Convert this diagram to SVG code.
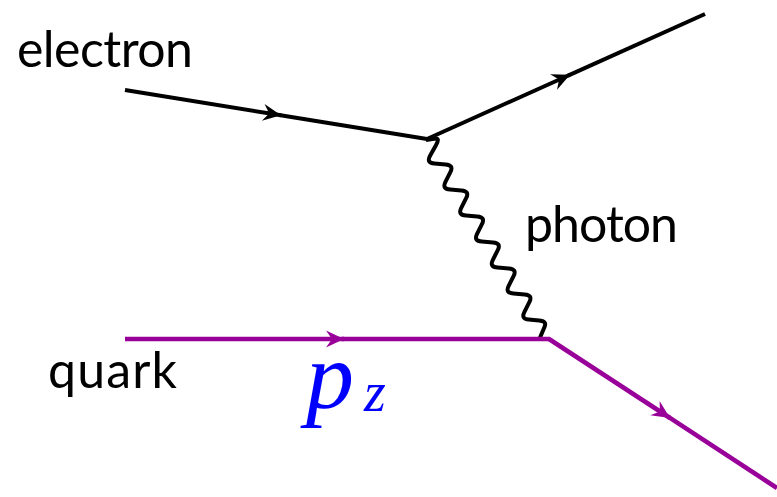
<svg xmlns="http://www.w3.org/2000/svg" width="777" height="497" viewBox="0 0 777 497">
<style>
.lbl{font-family:"Lato","Open Sans","DejaVu Sans",sans-serif;font-size:50px;fill:#000}
.fe{stroke:#000;stroke-width:4;fill:none;stroke-linecap:butt}
.fq{stroke:#990099;stroke-width:4.5;fill:none;stroke-linecap:butt}
.math{font-family:"Liberation Serif","DejaVu Serif",serif;font-style:italic;fill:#0000ff}
</style>
<defs>
<marker id="ab" viewBox="-20 -10 22 20" markerWidth="22" markerHeight="20" refX="0" refY="0" orient="auto" markerUnits="userSpaceOnUse">
<path d="M0,0 L-18,-8.5 L-12,0 L-18,8.5 Z" fill="#000"/>
</marker>
<marker id="ap" viewBox="-20 -10 22 20" markerWidth="22" markerHeight="20" refX="0" refY="0" orient="auto" markerUnits="userSpaceOnUse">
<path d="M0,0 L-18,-8.5 L-12,0 L-18,8.5 Z" fill="#990099"/>
</marker>
</defs>
<g id="connectors">
<g id="electron-in">
<line class="fe" x1="125" y1="90" x2="281" y2="115.3" marker-end="url(#ab)"/>
<line class="fe" x1="279" y1="115" x2="427" y2="139"/>
</g>
<g id="electron-out">
<line class="fe" x1="427" y1="139" x2="570" y2="74.7" marker-end="url(#ab)"/>
<line class="fe" x1="568" y1="75.6" x2="705" y2="14"/>
</g>
<g id="photon">
<path class="fe" stroke-linejoin="round" d="M426,140 L435.8,138.6 Q440,138 435.8,145.5 L430.2,155.5 Q426,163 434.4,163.6 L445.6,164.4 Q454,165 450.34,172.2 L445.46,181.8 Q441.8,189 450.2,189.6 L461.4,190.4 Q469.8,191 466.14,198.2 L461.26,207.8 Q457.6,215 466,215.6 L477.2,216.4 Q485.6,217 481.94,224.2 L477.06,233.8 Q473.4,241 481.8,241.6 L493,242.4 Q501.4,243 497.74,250.2 L492.86,259.8 Q489.2,267 497.6,267.6 L508.8,268.4 Q517.2,269 513.54,276.2 L508.66,285.8 Q505,293 513.4,293.6 L524.6,294.4 Q533,295 529.34,302.2 L524.46,311.8 Q520.8,319 528.66,319.6 L539.14,320.4 Q547,321 544.6,326.7 L539,340"/>
</g>
<g id="quark-in">
<line class="fq" x1="125" y1="339" x2="344" y2="339" marker-end="url(#ap)"/>
<line class="fq" x1="342" y1="339" x2="550" y2="339"/>
</g>
<g id="quark-out">
<line class="fq" x1="549" y1="339" x2="670" y2="418" marker-end="url(#ap)"/>
<line class="fq" x1="668" y1="416.7" x2="777" y2="488"/>
</g>
</g>
<g id="node-electron"><text class="lbl" x="17" y="67" textLength="176">electron</text></g>
<g id="node-photon"><text class="lbl" x="525" y="242" textLength="153">photon</text></g>
<g id="node-quark"><text class="lbl" x="48" y="388" textLength="129">quark</text></g>
<g id="node-pz"><text class="math" x="306" y="408" font-size="96">p</text><text class="math" x="364" y="411" font-size="56">z</text></g>
</svg>
